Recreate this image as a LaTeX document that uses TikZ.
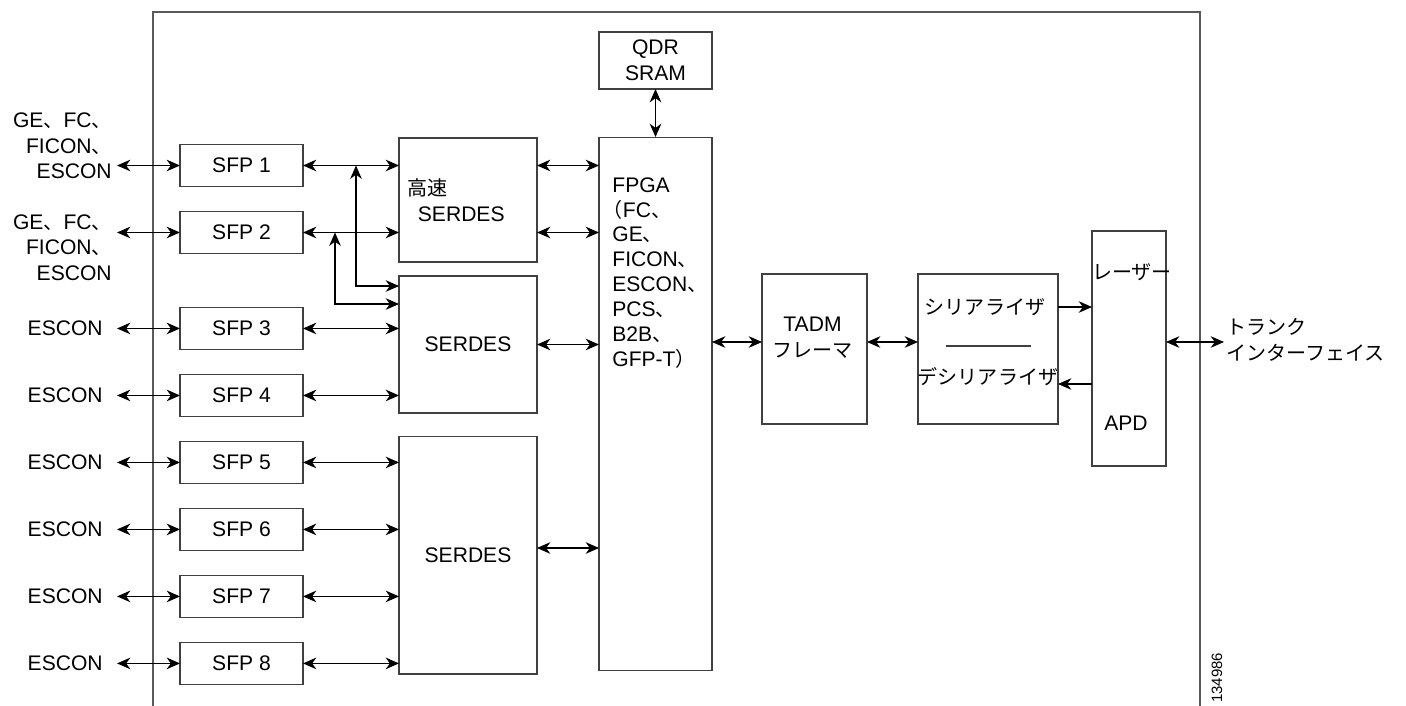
\documentclass[tikz,border=0pt]{standalone}
\usepackage{fontspec}
\setmainfont{Liberation Sans}
\newfontfamily\jpfont[Scale=0.95]{Noto Sans CJK JP}
\newcommand{\jtext}[1]{{\jpfont #1}}
\usepackage{xcolor}
\definecolor{gray700}{HTML}{404040}
\definecolor{gray600}{HTML}{5A5A5A}
\usetikzlibrary{arrows.meta, positioning, calc}

\begin{document}
\begin{tikzpicture}[
        x=0.02cm, y=-0.02cm,
        >={Stealth[length=7.6pt, width=6.6pt, inset=2.4pt]},
        font=\fontsize{12}{14.6}\selectfont,
        blk/.style={draw=gray700, line width=0.6pt, rectangle, inner sep=0pt, outer sep=0pt, align=center},
        sfpbox/.style={blk, minimum width=2.46cm, minimum height=0.84cm},
        txt/.style={inner sep=0pt, align=left},
        wire/.style={<->, line width=0.6pt},
        oneway/.style={->, line width=0.6pt}
    ]
    \useasboundingbox (0,0) rectangle (1406,706);

    % Card outline
    \draw[gray600, line width=0.9pt] (153,706) |- (1200,12) -- (1200,706);

    % SFP column
    \node[sfpbox] (sfp1) at (241.5,165.5) {SFP 1};
    \node[sfpbox, below=0.5cm of sfp1] (sfp2) {SFP 2};
    \node[sfpbox, below=1.08cm of sfp2] (sfp3) {SFP 3};
    \node[sfpbox, below=0.5cm of sfp3] (sfp4) {SFP 4};
    \node[sfpbox, below=0.5cm of sfp4] (sfp5) {SFP 5};
    \node[sfpbox, below=0.5cm of sfp5] (sfp6) {SFP 6};
    \node[sfpbox, below=0.5cm of sfp6] (sfp7) {SFP 7};
    \node[sfpbox, below=0.5cm of sfp7] (sfp8) {SFP 8};

    % Client ports
    \coordinate[left=1.26cm of sfp1.west] (in1);
    \coordinate[left=1.26cm of sfp2.west] (in2);
    \coordinate[left=1.26cm of sfp3.west] (in3);
    \coordinate[left=1.26cm of sfp4.west] (in4);
    \coordinate[left=1.26cm of sfp5.west] (in5);
    \coordinate[left=1.26cm of sfp6.west] (in6);
    \coordinate[left=1.26cm of sfp7.west] (in7);
    \coordinate[left=1.26cm of sfp8.west] (in8);
    \node[txt, align=right, left=0.1cm of in1, yshift=0.39cm] (lbl1) {GE\jtext{、}FC\jtext{、}\\FICON\jtext{、}\\ESCON};
    \node[txt, align=right, left=0.1cm of in2, yshift=-0.3cm] (lbl2) {GE\jtext{、}FC\jtext{、}\\FICON\jtext{、}\\ESCON};
    \node[txt, left=0.28cm of in3] (lbl3) {ESCON};
    \node[txt, left=0.28cm of in4] (lbl4) {ESCON};
    \node[txt, left=0.28cm of in5] (lbl5) {ESCON};
    \node[txt, left=0.28cm of in6] (lbl6) {ESCON};
    \node[txt, left=0.28cm of in7] (lbl7) {ESCON};
    \node[txt, left=0.28cm of in8] (lbl8) {ESCON};
    \draw[wire] (in1) -- (sfp1.west);
    \draw[wire] (in2) -- (sfp2.west);
    \draw[wire] (in3) -- (sfp3.west);
    \draw[wire] (in4) -- (sfp4.west);
    \draw[wire] (in5) -- (sfp5.west);
    \draw[wire] (in6) -- (sfp6.west);
    \draw[wire] (in7) -- (sfp7.west);
    \draw[wire] (in8) -- (sfp8.west);

    % SERDES blocks
    \node[blk, minimum width=2.76cm, minimum height=2.48cm] (hs) at (468,200) {};
    \node[txt, anchor=west] (hstxt) at ($(hs.west)+(8,0)$) {\jtext{高速}\\\hspace*{0.5em}SERDES};
    \node[blk, minimum width=2.76cm, minimum height=2.74cm] (serdes2) at (468,344.5) {SERDES};
    \node[blk, minimum width=2.76cm, minimum height=4.76cm] (serdes3) at (468,555) {SERDES};

    \draw[wire] (sfp1.east) -- (sfp1.east -| hs.west);
    \draw[wire] (sfp2.east) -- (sfp2.east -| hs.west);
    \draw[wire] (sfp3.east) -- (sfp3.east -| serdes2.west);
    \draw[wire] (sfp4.east) -- (sfp4.east -| serdes2.west);
    \draw[wire] (sfp5.east) -- (sfp5.east -| serdes3.west);
    \draw[wire] (sfp6.east) -- (sfp6.east -| serdes3.west);
    \draw[wire] (sfp7.east) -- (sfp7.east -| serdes3.west);
    \draw[wire] (sfp8.east) -- (sfp8.east -| serdes3.west);

    % SFP 1/2 also feed the lower SERDES
    \coordinate (tap1) at ($(sfp1.east)+(53,0)$);
    \coordinate (tap2) at ($(sfp2.east)+(32,0)$);
    \draw[wire] (tap1) |- ($(serdes2.north west)+(0,10)$);
    \draw[wire] (tap2) |- ($(serdes2.north west)+(0,28)$);

    % FPGA and memory
    \node[blk, minimum width=2.26cm, minimum height=10.68cm] (fpga) at (655.5,404) {};
    \node[txt, anchor=west, font=\fontsize{12}{14.2}\selectfont] (fpgatxt) at ($(fpga.west)+(13,-131)$)
        {FPGA\\\hspace*{-0.45em}\jtext{（}FC\jtext{、}\\GE\jtext{、}\\FICON\jtext{、}\\ESCON\jtext{、}\\PCS\jtext{、}\\B2B\jtext{、}\\GFP-T\jtext{）}};
    \node[blk, minimum width=2.26cm, minimum height=1.14cm] (qdr) at (655.5,60.5) {QDR\\SRAM};

    \draw[wire] (qdr.south) -- (fpga.north);
    \draw[wire] (hs.east |- sfp1.east) -- (fpga.west |- sfp1.east);
    \draw[wire] (hs.east |- sfp2.east) -- (fpga.west |- sfp2.east);
    \draw[wire] (serdes2.east) -- (serdes2.east -| fpga.west);
    \draw[wire] ($(serdes3.east)+(0,-7)$) -- ($(serdes3.east -| fpga.west)+(0,-7)$);

    % Trunk side
    \node[blk, minimum width=2.1cm, minimum height=3cm] (tadm) at (814.5,349) {};
    \node[txt, align=center] (tadmtxt) at ($(tadm.center)+(-2,-11)$) {TADM\\\jtext{フレーマ}};
    \node[blk, minimum width=2.8cm, minimum height=3cm] (ser) at (988,349) {};
    \node[txt] (sertxt) at ($(ser.center)+(-3,-42)$) {\jtext{シリアライザ}};
    \node[txt] (desertxt) at ($(ser.center)+(0,28)$) {\jtext{デシリアライザ}};
    \draw[gray700, line width=0.6pt] ($(ser.center)+(-42,-3)$) -- ($(ser.center)+(43,-3)$);
    \node[blk, minimum width=1.48cm, minimum height=4.7cm] (opt) at (1129,348.5) {};
    \node[txt] (lasertxt) at ($(opt.center)+(3,-76.5)$) {\jtext{レーザー}};
    \node[txt] (apdtxt) at ($(opt.center)+(-3,74.5)$) {APD};

    \draw[wire] ($(fpga.east |- tadm.west)+(0,-7)$) -- ($(tadm.west)+(0,-7)$);
    \draw[wire] ($(tadm.east)+(0,-7)$) -- ($(ser.west)+(0,-7)$);
    \draw[oneway] ($(ser.east)+(0,-42)$) -- ($(ser.east -| opt.west)+(0,-42)$);
    \draw[oneway] ($(ser.east -| opt.west)+(0,35)$) -- ($(ser.east)+(0,35)$);

    \coordinate (trunk) at ($(opt.east)+(58,-6.5)$);
    \draw[wire] ($(opt.east)+(0,-6.5)$) -- (trunk);
    \node[txt, anchor=west] (trunktxt) at ($(trunk)+(2,-2)$) {\jtext{トランク}\\\jtext{インターフェイス}};

    \node[inner sep=0pt, rotate=90, anchor=west, font=\fontsize{8.5}{8.5}\selectfont] (figno) at (1217,703) {134986};
\end{tikzpicture}
\end{document}
